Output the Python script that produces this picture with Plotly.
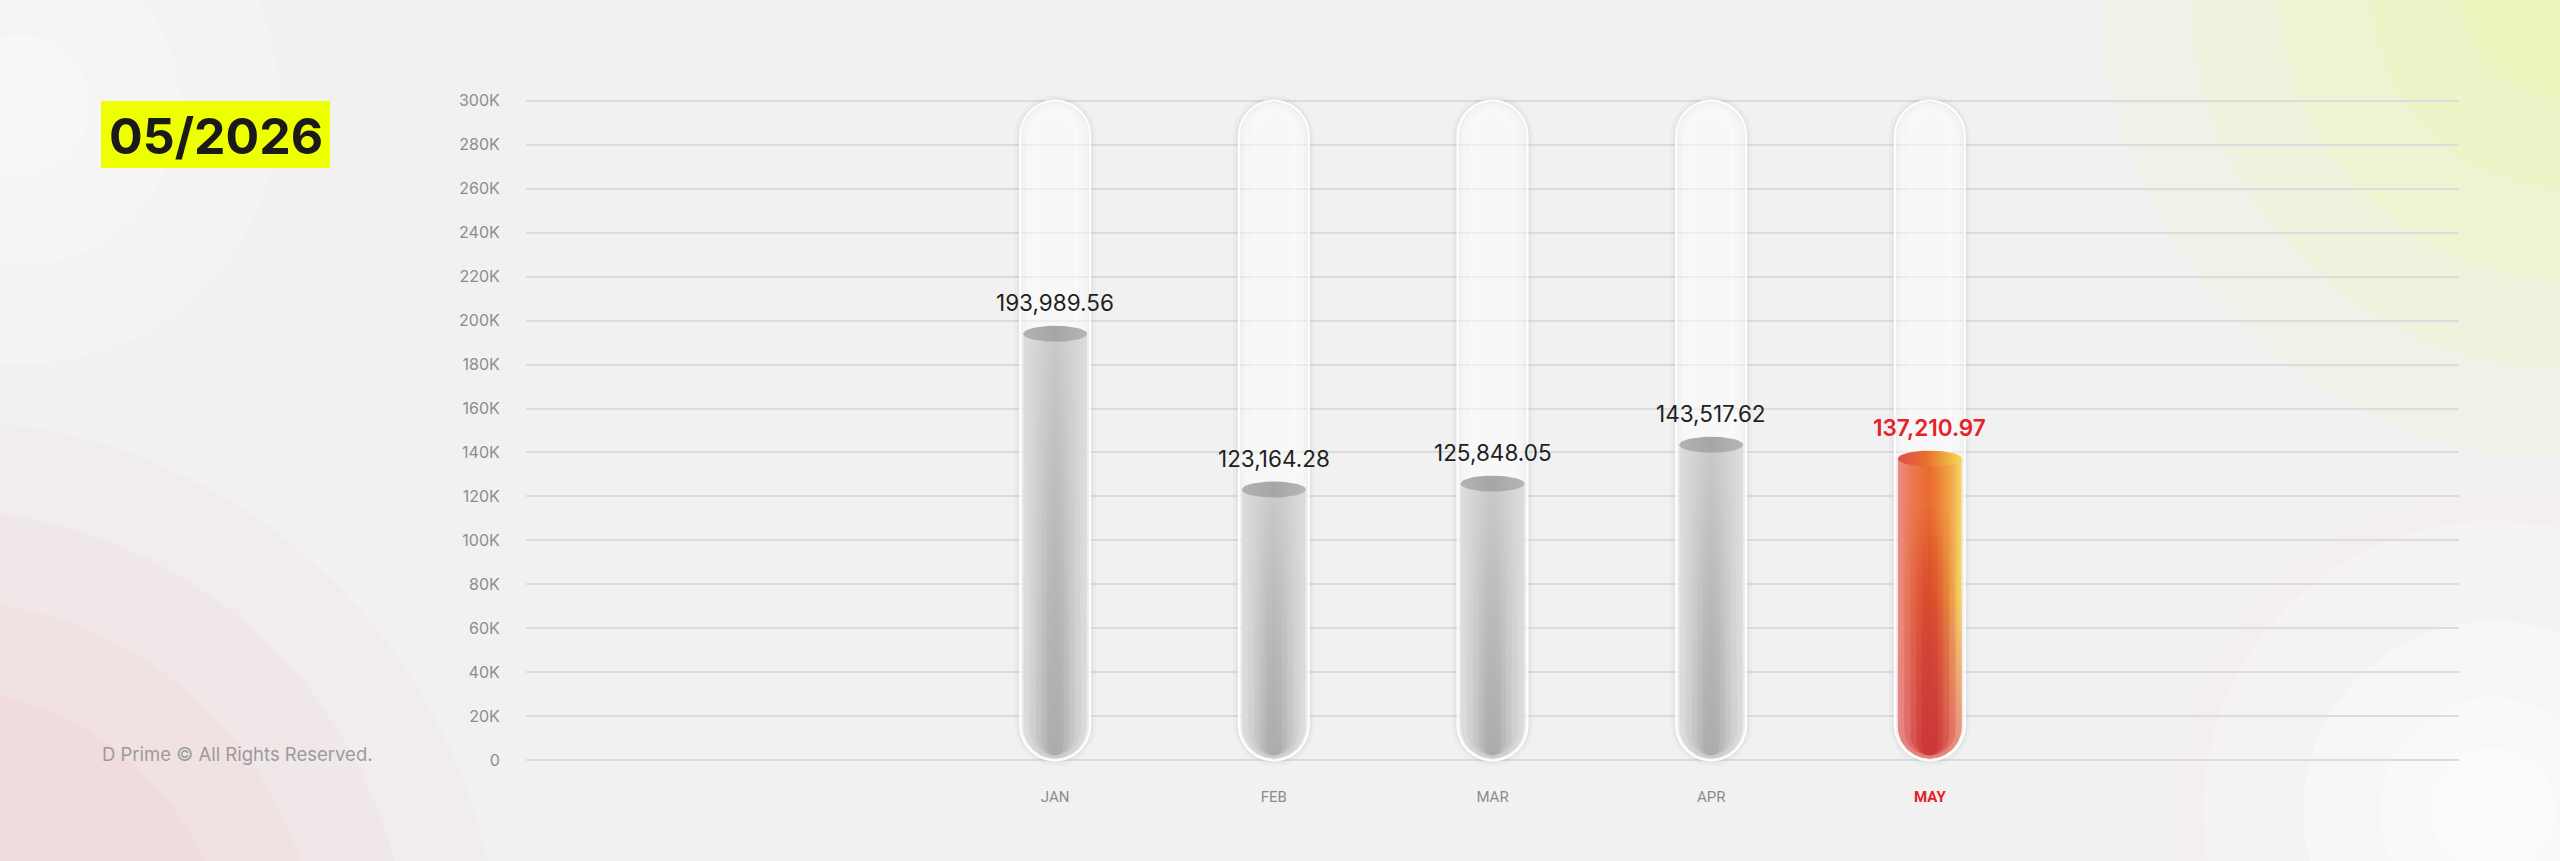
import numpy as np
import plotly.graph_objects as go

# ---------------- data ----------------
months = ["JAN", "FEB", "MAR", "APR", "MAY"]
values = [193989.56, 123164.28, 125848.05, 143517.62, 137210.97]
highlight_month = "MAY"
y_max = 300000
y_tick_vals = [0, 20000, 40000, 60000, 80000, 100000, 120000, 140000, 160000,
               180000, 200000, 220000, 240000, 260000, 280000, 300000]
y_tick_text = ["0", "20K", "40K", "60K", "80K", "100K", "120K", "140K", "160K",
               "180K", "200K", "220K", "240K", "260K", "280K", "300K"]
period_label = "05/2026"
footer_text = "D Prime \u00a9 All Rights Reserved."

# ---------------- layout geometry ----------------
W, H = 2560, 861
M = dict(l=526, r=101, t=94, b=94)
X_RANGE = [-2.42, 6.42]
Y_RANGE = [-3000, 303000]
plot_w = W - M["l"] - M["r"]
plot_h = H - M["t"] - M["b"]
ppx = plot_w / (X_RANGE[1] - X_RANGE[0])
ppy = plot_h / (Y_RANGE[1] - Y_RANGE[0])


def dx(px):
    return px / ppx


def dy(px):
    return px / ppy


def paper_x(px):
    return (px - M["l"]) / plot_w


def paper_y(py):
    return (H - M["b"] - py) / plot_h


def capsule(xc, y0, y1, hw, ry, n=48, round_top=True):
    t = np.linspace(np.pi, 2 * np.pi, n)
    xs = list(xc + hw * np.cos(t))
    ys = list(y0 + ry + ry * np.sin(t))
    if round_top:
        t = np.linspace(0, np.pi, n)
        xs += list(xc + hw * np.cos(t))
        ys += list(y1 - ry + ry * np.sin(t))
    else:
        xs += [xc + hw, xc - hw]
        ys += [y1, y1]
    xs.append(xs[0])
    ys.append(ys[0])
    return xs, ys


def ellipse(xc, yc, hw, hh, n=60):
    t = np.linspace(0, 2 * np.pi, n)
    return list(xc + hw * np.cos(t)), list(yc + hh * np.sin(t))


fig = go.Figure()

TUBE_HW = dx(35)
TUBE_RY = dy(35)
FILL_HW = dx(32)
FILL_RY = dy(32)
TOP_HH = dy(8)

for i, (m, v) in enumerate(zip(months, values)):
    hl = (m == highlight_month)
    # shadow / glow
    for wdt, a in [(12, 0.02), (6, 0.03)]:
        xs, ys = capsule(i, 0, y_max, TUBE_HW, TUBE_RY)
        fig.add_trace(go.Scatter(x=xs, y=ys, mode="lines",
                                 line=dict(color=f"rgba(0,0,0,{a})", width=wdt),
                                 hoverinfo="skip", showlegend=False))
    # glass tube
    xs, ys = capsule(i, 0, y_max, TUBE_HW, TUBE_RY)
    fig.add_trace(go.Scatter(x=xs, y=ys, mode="lines", fill="toself",
                             fillcolor="rgba(255,255,255,0.45)",
                             line=dict(color="rgba(255,255,255,0.95)", width=2),
                             hoverinfo="skip", showlegend=False))
    # inner highlight column
    xs, ys = capsule(i, dy(10), y_max - dy(10), TUBE_HW * 0.6, dy(24))
    fig.add_trace(go.Scatter(x=xs, y=ys, mode="lines", fill="toself",
                             fillcolor="rgba(255,255,255,0.12)",
                             line=dict(color="rgba(255,255,255,0.4)", width=2),
                             hoverinfo="skip", showlegend=False))

    # liquid body
    y_bottom = dy(2)
    xs, ys = capsule(i, y_bottom, v, FILL_HW, FILL_RY, round_top=False)
    if hl:
        hscale = [[0, "#ea8e86"], [0.2, "#eb7a52"], [0.5, "#ea6a2e"],
                  [0.8, "#f0a044"], [1, "#f6d86c"]]
    else:
        hscale = [[0, "#dddddd"], [0.25, "#d2d2d2"], [0.5, "#c9c9c9"],
                  [0.75, "#d2d2d2"], [1, "#dddddd"]]
    fig.add_trace(go.Scatter(x=xs, y=ys, mode="lines", fill="toself",
                             line=dict(width=0, color="rgba(0,0,0,0)"),
                             fillgradient=dict(type="horizontal", colorscale=hscale,
                                               start=i - FILL_HW, stop=i + FILL_HW),
                             hoverinfo="skip", showlegend=False))
    if hl:
        fig.add_trace(go.Scatter(x=xs, y=ys, mode="lines", fill="toself",
                                 line=dict(width=0, color="rgba(0,0,0,0)"),
                                 fillgradient=dict(type="vertical",
                                                   colorscale=[[0, "rgba(228,130,135,0.9)"],
                                                               [0.55, "rgba(228,130,135,0.0)"],
                                                               [1, "rgba(228,130,135,0.0)"]],
                                                   start=0, stop=v),
                                 hoverinfo="skip", showlegend=False))
        layers = [(0.8, 0.25), (0.6, 0.3), (0.42, 0.35), (0.26, 0.35)]
        dark = "196,34,36"
        fade = 0.85
    else:
        layers = [(0.8, 0.06), (0.6, 0.08), (0.42, 0.1), (0.26, 0.1)]
        dark = "100,100,100"
        fade = 1.0
    for frac, a in layers:
        lx, ly = capsule(i, y_bottom + dy(3), v, FILL_HW * frac, FILL_RY * frac,
                         round_top=False)
        if fade < 1:
            cs = [[0, f"rgba({dark},{a})"], [0.4, f"rgba({dark},{a*0.6:.3f})"],
                  [fade, f"rgba({dark},0)"], [1, f"rgba({dark},0)"]]
        else:
            cs = [[0, f"rgba({dark},{a})"], [0.4, f"rgba({dark},{a*0.6:.3f})"],
                  [1, f"rgba({dark},0)"]]
        fig.add_trace(go.Scatter(x=lx, y=ly, mode="lines", fill="toself",
                                 line=dict(width=0, color="rgba(0,0,0,0)"),
                                 fillgradient=dict(type="vertical", colorscale=cs,
                                                   start=0, stop=v),
                                 hoverinfo="skip", showlegend=False))
    # liquid surface
    ex, ey = ellipse(i, v, FILL_HW, TOP_HH)
    if hl:
        escale = [[0, "#e04a50"], [0.45, "#e8702c"], [1, "#f4dc50"]]
    else:
        escale = [[0, "#b2b2b2"], [0.5, "#a6a6a6"], [1, "#b6b6b6"]]
    fig.add_trace(go.Scatter(x=ex, y=ey, mode="lines", fill="toself",
                             line=dict(width=0, color="rgba(0,0,0,0)"),
                             fillgradient=dict(type="horizontal", colorscale=escale,
                                               start=i - FILL_HW, stop=i + FILL_HW),
                             hoverinfo="skip", showlegend=False))

    # value label
    fig.add_annotation(x=i, y=v, xref="x", yref="y", text=f"{v:,.2f}",
                       showarrow=False, yanchor="middle", yshift=31,
                       font=dict(family="Inter", size=22.5,
                                 color="#e8202a" if hl else "#1f1f1f",
                                 weight=600 if hl else 400))

# ---------------- background decorations ----------------
shapes = []


def circ(cx, cy, r, color):
    shapes.append(dict(type="circle", xref="paper", yref="paper", layer="below",
                       x0=paper_x(cx - r), x1=paper_x(cx + r),
                       y0=paper_y(cy + r), y1=paper_y(cy - r),
                       fillcolor=color, line=dict(width=0)))


# top-right yellow glow
for r, c in [(470, "rgba(238,244,200,0.2)"), (380, "rgba(238,245,195,0.28)"),
             (290, "rgba(238,246,190,0.35)"), (200, "rgba(238,246,185,0.4)"),
             (110, "rgba(238,246,180,0.45)")]:
    circ(2570, -10, r, c)
# bottom-left pink glow
for r, c in [(560, "rgba(240,210,212,0.14)"), (470, "rgba(240,208,210,0.18)"),
             (380, "rgba(240,205,208,0.22)"), (290, "rgba(238,200,204,0.25)")]:
    circ(-60, 980, r, c)
# top-left white rings
for r, c in [(260, "rgba(255,255,255,0.16)"), (160, "rgba(255,255,255,0.22)"),
             (70, "rgba(255,255,255,0.25)")]:
    circ(20, 105, r, c)
# bottom-right white rings
for r, c in [(316, "rgba(246,238,238,0.45)"), (290, "rgba(255,255,255,0.22)"),
             (190, "rgba(255,255,255,0.3)"), (113, "rgba(255,255,255,0.35)"),
             (63, "rgba(255,255,255,0.35)")]:
    circ(2493, 811, r, c)

# title box
shapes.append(dict(type="rect", xref="paper", yref="paper", layer="above",
                   x0=paper_x(101), x1=paper_x(330), y0=paper_y(168), y1=paper_y(101),
                   fillcolor="#eeff00", line=dict(width=0)))

fig.add_annotation(xref="paper", yref="paper", x=paper_x(215.5), y=paper_y(136),
                   text=period_label, showarrow=False, xanchor="center", yanchor="middle",
                   font=dict(family="Inter", size=50, color="#1a1a1a", weight=700))
fig.add_annotation(xref="paper", yref="paper", x=paper_x(100), y=paper_y(754),
                   text=footer_text, showarrow=False, xanchor="left", yanchor="middle",
                   font=dict(family="Inter", size=18.5, color="#9b9b9b"))

tick_text_x = [f"<span style='color:#e8202a'><b>{m}</b></span>" if m == highlight_month else m
               for m in months]

fig.update_layout(
    width=W, height=H, margin=M,
    paper_bgcolor="#f1f1f1", plot_bgcolor="rgba(0,0,0,0)",
    shapes=shapes, showlegend=False,
    xaxis=dict(range=X_RANGE, tickmode="array", tickvals=list(range(len(months))),
               ticktext=tick_text_x, showgrid=False, zeroline=False, showline=False,
               ticks="outside", ticklen=16, tickcolor="rgba(0,0,0,0)",
               tickfont=dict(family="Roboto", size=15, color="#8c8c8c"), fixedrange=True),
    yaxis=dict(range=Y_RANGE, tickmode="array", tickvals=y_tick_vals, ticktext=y_tick_text,
               showgrid=True, gridcolor="#dcdcdc", gridwidth=2, zeroline=False,
               showline=False, ticks="outside", ticklen=22, tickcolor="rgba(0,0,0,0)",
               tickfont=dict(family="Inter", size=16, color="#8c8c8c"), fixedrange=True),
)

fig.write_html("out.html",
               config={"displayModeBar": False},
               post_script="document.body.style.margin='0';"
                           "document.body.style.background='#f1f1f1';"
                           "document.body.style.overflow='hidden';")
